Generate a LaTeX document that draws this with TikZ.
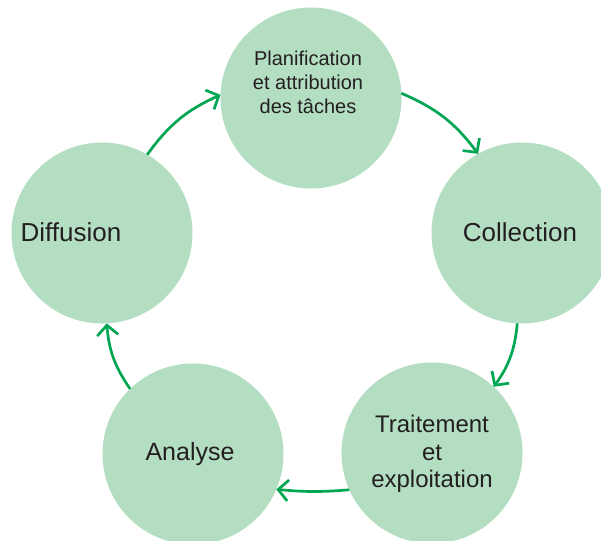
\documentclass[tikz,border=0pt]{standalone}
\usepackage{fontspec}
\setmainfont{Liberation Sans}
\usetikzlibrary{arrows.meta}
\definecolor{phasefill}{RGB}{179,222,193}
\definecolor{cyclegreen}{RGB}{0,166,81}
\definecolor{phasetext}{RGB}{35,31,32}

\begin{document}
\begin{tikzpicture}[x=1pt, y=-1pt,
				phase/.style={circle, fill=phasefill, minimum size=181pt, inner sep=0pt, outer sep=0pt},
				phaselabel/.style={text=phasetext, align=center, inner sep=0pt},
				cycle/.style={draw=cyclegreen, line width=2.7pt, -{Straight Barb[length=10pt, width=21pt]}}
			]
			\useasboundingbox (0,0) rectangle (601,540);
			\node[phase] (plan) at (311,98) {};
			\node[phase] (collection) at (522,233) {};
			\node[phase] (traitement) at (432,453) {};
			\node[phase] (analyse) at (193,454) {};
			\node[phase] (diffusion) at (102,233) {};
			\node[phaselabel, font=\fontsize{20}{24}\selectfont] (plantext) at (308,82) {Planification\\et attribution\\des tâches};
			\node[phaselabel, font=\fontsize{26}{30}\selectfont] (collectiontext) at (520,232) {Collection};
			\node[phaselabel, font=\fontsize{24}{27.5}\selectfont] (traitementtext) at (432,454) {Traitement\\et\\exploitation};
			\node[phaselabel, font=\fontsize{25}{30}\selectfont] (analysetext) at (190,454) {Analyse};
			\node[phaselabel, font=\fontsize{26}{30}\selectfont] (diffusiontext) at (71,232) {Diffusion};
			\begin{scope}[cycle]
			\draw (diffusion.60) to[bend left=15] (plan.178);
			\draw (plan.3) to[bend left=15] (collection.119);
			\draw (collection.267) to[bend left=15] (traitement.47);
			\draw (traitement.204) to[bend left=5] (analyse.337);
			\draw (analyse.134) to[bend left=15] (diffusion.273);
			\end{scope}
			\end{tikzpicture}
\end{document}
